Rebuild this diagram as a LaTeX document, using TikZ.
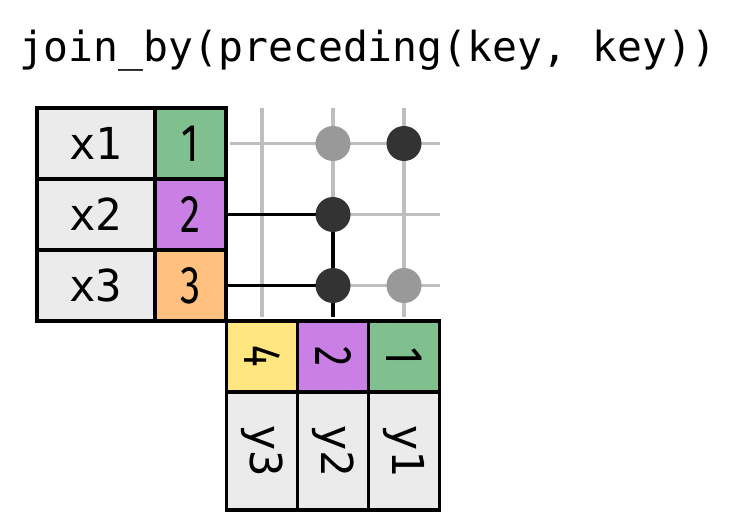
\documentclass[tikz,border=0pt]{standalone}
\usepackage{fontspec}
\newfontfamily\monof{DejaVu Sans Mono}
\newfontfamily\keyf{Fira Sans}
\definecolor{cellgray}{HTML}{EBEBEB}
\definecolor{kgreen}{HTML}{80BF8E}
\definecolor{kpurple}{HTML}{C97FE3}
\definecolor{korange}{HTML}{FFC080}
\definecolor{kyellow}{HTML}{FFE680}
\definecolor{gridgray}{HTML}{BEBEBE}
\definecolor{dotdark}{HTML}{333333}
\definecolor{dotlight}{HTML}{999999}
\newcommand\keytxt[1]{\scalebox{0.76}[1]{#1}}
\begin{document}
\begin{tikzpicture}[x=1pt,y=-1pt,
  cell/.style={draw=black, line width=3.8pt, inner sep=0pt, minimum width=71pt, minimum height=71pt},
  labelcell/.style={cell, fill=cellgray, font=\monof\fontsize{44}{44}\selectfont},
  keycell/.style={cell, font=\keyf\fontsize{53}{53}\selectfont},
  gridline/.style={draw=gridgray, line width=3.3pt},
  joinline/.style={draw=black, line width=3.3pt},
  dotd/.style={circle, fill=dotdark, inner sep=0pt, minimum size=35pt},
  dotl/.style={circle, fill=dotlight, inner sep=0pt, minimum size=35pt},
  title/.style={anchor=base, inner sep=0pt, font=\monof\fontsize{41.4}{41.4}\selectfont}
]
\useasboundingbox (0,0) rectangle (737,524);
\node[title] (T) at (368,62) {join\_by(preceding(key, key))};

% positions
\coordinate (c1) at (262,108);
\coordinate (c2) at (333,108);
\coordinate (c3) at (404,108);
\coordinate (r1) at (440,143.5);
\coordinate (r2) at (440,214.5);
\coordinate (r3) at (440,285.5);

% left table
\node[labelcell, minimum width=118pt] (L1) at (96,143.5) {x1};
\node[labelcell, minimum width=118pt] (L2) at (96,214.5) {x2};
\node[labelcell, minimum width=118pt] (L3) at (96,285.5) {x3};
\node[keycell, fill=kgreen]  (K1) at (190.5,143.5) {\keytxt{1}};
\node[keycell, fill=kpurple] (K2) at (190.5,214.5) {\keytxt{2}};
\node[keycell, fill=korange] (K3) at (190.5,285.5) {\keytxt{3}};

% bottom table
\node[keycell, fill=kyellow] (B1) at (262,356.5) {\rotatebox{-90}{\keytxt{4}}};
\node[keycell, fill=kpurple] (B2) at (333,356.5) {\rotatebox{-90}{\keytxt{2}}};
\node[keycell, fill=kgreen]  (B3) at (404,356.5) {\rotatebox{-90}{\keytxt{1}}};
\node[labelcell, minimum height=118pt] (Y1) at (262,451) {\rotatebox{-90}{y3}};
\node[labelcell, minimum height=118pt] (Y2) at (333,451) {\rotatebox{-90}{y2}};
\node[labelcell, minimum height=118pt] (Y3) at (404,451) {\rotatebox{-90}{y1}};

% grid
\draw[gridline, shorten >=1.9pt] (c1) -- (B1.north);
\draw[gridline, shorten >=1.9pt] (c2) -- (B2.north);
\draw[gridline, shorten >=1.9pt] (c3) -- (B3.north);
\draw[gridline, shorten <=1.9pt] (K1.east) -- (r1);
\draw[gridline, shorten <=1.9pt] (K2.east) -- (r2);
\draw[gridline, shorten <=1.9pt] (K3.east) -- (r3);

% dots
\node[dotl] (d12) at (B2.north |- K1) {};
\node[dotd] (d13) at (B3.north |- K1) {};
\node[dotl] (d33) at (B3.north |- K3) {};
\coordinate (p22) at (B2.north |- K2);
\coordinate (p32) at (B2.north |- K3);

% matches
\draw[joinline] (K2.east) -- (p22);
\draw[joinline] (K3.east) -- (p32);
\draw[joinline, shorten >=1.9pt] (p22) -- (B2.north);
\node[dotd] (d22) at (p22) {};
\node[dotd] (d32) at (p32) {};
\end{tikzpicture}
\end{document}
